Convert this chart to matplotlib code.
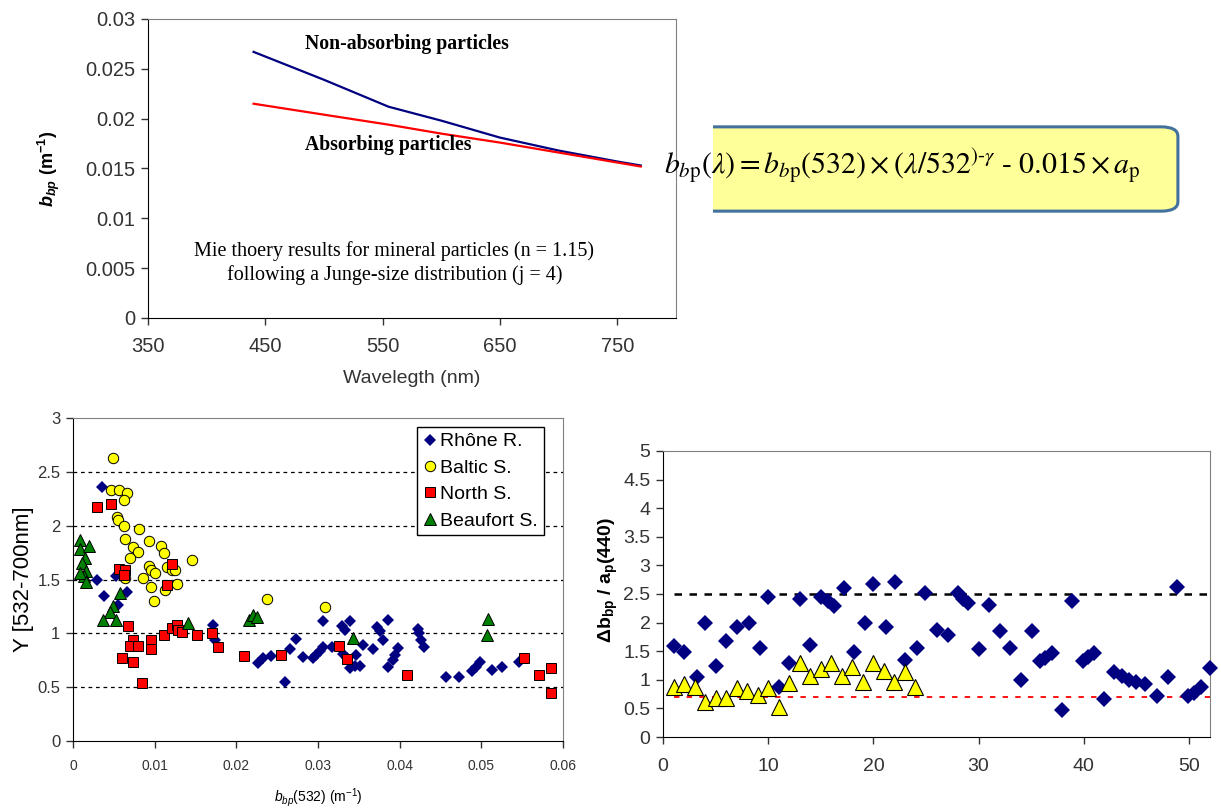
import matplotlib
matplotlib.use('Agg')
import matplotlib.pyplot as plt
from matplotlib.patches import FancyBboxPatch

plt.rcParams['font.family'] = ['Liberation Sans', 'DejaVu Sans']
plt.rcParams['mathtext.fontset'] = 'custom'
plt.rcParams['mathtext.rm'] = 'Liberation Sans'
plt.rcParams['mathtext.it'] = 'Liberation Sans:italic'
plt.rcParams['mathtext.bf'] = 'Liberation Sans:bold:italic'
plt.rcParams['mathtext.sf'] = 'Liberation Sans:bold'

W, H = 1221, 809

# --- top panel: Mie theory results ---
wavelength = [440, 500, 555, 600, 650, 700, 750, 770]
bbp_nonabs = [0.0267, 0.0239, 0.0212, 0.0198, 0.0181, 0.0168, 0.0157, 0.0153]
bbp_abs = [0.0215, 0.0204, 0.0194, 0.0185, 0.0176, 0.0166, 0.0156, 0.0152]
top_xticks = [350, 450, 550, 650, 750]
top_yticks = [0, 0.005, 0.01, 0.015, 0.02, 0.025, 0.03]
top_yticklabels = ['0', '0.005', '0.01', '0.015', '0.02', '0.025', '0.03']

# --- bottom left: spectral slope vs bbp(532) ---
rhone_x = [0.0036, 0.0029, 0.0038, 0.0053, 0.0055, 0.0066, 0.0172, 0.0174, 0.0227, 0.0233,
           0.0242, 0.0260, 0.0266, 0.0273, 0.0282, 0.0294, 0.0298, 0.0302, 0.0306, 0.0306,
           0.0317, 0.0329, 0.0333, 0.0339, 0.0331, 0.0335, 0.0339, 0.0345, 0.0347, 0.0351,
           0.0355, 0.0367, 0.0372, 0.0376, 0.0380, 0.0386, 0.0386, 0.0392, 0.0398, 0.0394,
           0.0422, 0.0424, 0.0426, 0.0430, 0.0457, 0.0473, 0.0489, 0.0494, 0.0498, 0.0513,
           0.0525, 0.0546]
rhone_y = [2.36, 1.50, 1.35, 1.53, 1.26, 1.38, 1.08, 0.94, 0.72, 0.77,
           0.79, 0.55, 0.85, 0.95, 0.78, 0.77, 0.80, 0.84, 0.87, 1.11,
           0.87, 1.07, 1.03, 1.11, 0.81, 0.77, 0.68, 0.70, 0.80, 0.70,
           0.89, 0.85, 1.06, 1.02, 0.94, 1.12, 0.69, 0.75, 0.86, 0.80,
           1.04, 1.00, 0.94, 0.87, 0.59, 0.59, 0.65, 0.69, 0.73, 0.66,
           0.69, 0.73]
baltic_x = [0.0049, 0.0047, 0.0056, 0.0066, 0.0062, 0.0054, 0.0055, 0.0062, 0.0081, 0.0064,
            0.0093, 0.0074, 0.0108, 0.0080, 0.0111, 0.0070, 0.0146, 0.0093, 0.0095, 0.0100,
            0.0115, 0.0121, 0.0125, 0.0086, 0.0064, 0.0127, 0.0095, 0.0113, 0.0099, 0.0237,
            0.0309]
baltic_y = [2.63, 2.33, 2.33, 2.30, 2.24, 2.08, 2.05, 2.00, 1.97, 1.88,
            1.86, 1.80, 1.81, 1.76, 1.75, 1.70, 1.68, 1.63, 1.59, 1.56,
            1.62, 1.59, 1.59, 1.51, 1.51, 1.46, 1.43, 1.40, 1.30, 1.32,
            1.24]
north_x = [0.0029, 0.0047, 0.0056, 0.0064, 0.0062, 0.0121, 0.0115, 0.0067, 0.0073, 0.0070,
           0.0080, 0.0096, 0.0095, 0.0060, 0.0074, 0.0084, 0.0111, 0.0121, 0.0127, 0.0129,
           0.0134, 0.0152, 0.0170, 0.0177, 0.0209, 0.0255, 0.0326, 0.0335, 0.0409, 0.0552,
           0.0571, 0.0585, 0.0585]
north_y = [2.17, 2.20, 1.60, 1.59, 1.54, 1.64, 1.45, 1.07, 0.94, 0.88,
           0.88, 0.94, 0.85, 0.77, 0.73, 0.54, 0.98, 1.05, 1.08, 1.03,
           1.01, 0.98, 1.00, 0.87, 0.79, 0.80, 0.885, 0.76, 0.61, 0.77,
           0.61, 0.675, 0.45]
beaufort_x = [0.0009, 0.0008, 0.0019, 0.0015, 0.0011, 0.0016, 0.0013, 0.0009, 0.0016, 0.0058,
              0.0049, 0.0045, 0.0037, 0.0053, 0.0141, 0.0215, 0.0220, 0.0225, 0.0343, 0.0508,
              0.0507]
beaufort_y = [1.87, 1.78, 1.81, 1.70, 1.65, 1.58, 1.53, 1.56, 1.48, 1.37,
              1.25, 1.20, 1.12, 1.12, 1.10, 1.12, 1.17, 1.15, 0.96, 1.13,
              0.98]
bl_xticks = [0, 0.01, 0.02, 0.03, 0.04, 0.05, 0.06]
bl_xticklabels = ['0', '0.01', '0.02', '0.03', '0.04', '0.05', '0.06']
bl_yticks = [0, 0.5, 1, 1.5, 2, 2.5, 3]
bl_yticklabels = ['0', '0.5', '1', '1.5', '2', '2.5', '3']

# --- bottom right: delta bbp / ap(440) per sample ---
diam_x = [1, 2, 3.2, 4, 5, 6, 7, 8.2, 9.2, 10, 11, 12, 13, 14, 15, 15.7, 16.3, 17.2, 18.2, 19.2,
          20, 21.2, 22.1, 23, 24.1, 24.9, 26, 27.1, 28, 28.5, 29, 30, 31, 32, 33, 34, 35.1,
          35.8, 36.3, 37, 37.9, 38.9, 39.9, 40.4, 41, 41.9, 42.9, 43.6, 44.3, 45, 45.8, 47,
          48, 48.9, 49.9, 50.5, 51.1, 52]
diam_y = [1.59, 1.48, 1.05, 1.99, 1.24, 1.67, 1.93, 1.99, 1.55, 2.45, 0.88, 1.30, 2.42, 1.61,
          2.45, 2.37, 2.29, 2.60, 1.48, 2.00, 2.67, 1.92, 2.71, 1.35, 1.55, 2.51, 1.87, 1.79,
          2.51, 2.42, 2.34, 1.53, 2.30, 1.85, 1.55, 0.99, 1.85, 1.32, 1.38, 1.46, 0.47, 2.38,
          1.33, 1.39, 1.46, 0.66, 1.14, 1.06, 0.99, 0.97, 0.93, 0.72, 1.05, 2.63, 0.71, 0.77,
          0.87, 1.20]
tri_x = list(range(1, 25))
tri_y = [0.88, 0.93, 0.88, 0.62, 0.68, 0.68, 0.85, 0.80, 0.74, 0.85, 0.52, 0.94,
         1.29, 1.06, 1.19, 1.29, 1.06, 1.23, 0.97, 1.29, 1.15, 0.97, 1.13, 0.87]
upper_limit = 2.5
lower_limit = 0.7
br_yticks = [0, 0.5, 1, 1.5, 2, 2.5, 3, 3.5, 4, 4.5, 5]
br_yticklabels = ['0', '0.5', '1', '1.5', '2', '2.5', '3', '3.5', '4', '4.5', '5']
br_xticks = [0, 10, 20, 30, 40, 50]

fig = plt.figure(figsize=(W / 100, H / 100), dpi=100)


def px_axes(l, t, r, b):
    return fig.add_axes([l / W, 1 - b / H, (r - l) / W, (b - t) / H])


def excel_frame(ax):
    ax.spines['top'].set_color('#808080')
    ax.spines['right'].set_color('#808080')
    ax.tick_params(direction='out', length=5, width=1, colors='black', pad=4)
    ax.tick_params(top=False, right=False)


# top panel
ax1 = px_axes(148, 19, 676, 318)
ax1.plot(wavelength, bbp_nonabs, color='#000080', lw=1.6)
ax1.plot(wavelength, bbp_abs, color='#ff0000', lw=1.6)
ax1.set_xlim(350, 800)
ax1.set_ylim(0, 0.03)
ax1.set_xticks(top_xticks)
ax1.set_yticks(top_yticks)
ax1.set_yticklabels(top_yticklabels)
excel_frame(ax1)
ax1.tick_params(labelsize=14.5, colors='#333333')
ax1.tick_params(axis='x', pad=9)
ax1.set_xlabel('Wavelegth (nm)', fontsize=14, color='#333333', labelpad=10)
ax1.set_ylabel(r'$\mathbf{b_{bp}}$ (m$^{\mathsf{-1}}$)', fontsize=13, fontweight='bold')
ax1.yaxis.set_label_coords((62 - 148) / 528, 0.5)
ax1.text(484, 0.0275, 'Non-absorbing particles', family='Liberation Serif',
         fontweight='bold', fontsize=14.2, ha='left', va='center')
ax1.text(484, 0.0174, 'Absorbing particles', family='Liberation Serif',
         fontweight='bold', fontsize=14.2, ha='left', va='center')
ax1.text(560, 0.0055, 'Mie thoery results for mineral particles (n = 1.15)\n'
         'following a Junge-size distribution (j = 4)', family='Liberation Serif',
         fontsize=14.5, ha='center', va='center', linespacing=1.3)

# formula box
axf = px_axes(713, 120, 1185, 218)
axf.set_xlim(0, 1)
axf.set_ylim(0, 1)
axf.axis('off')
box = FancyBboxPatch((-0.2, 0.07), 1.185, 0.86, boxstyle='round,pad=0,rounding_size=0.035',
                     mutation_aspect=2.8, facecolor='#ffff99', edgecolor='#41719c', lw=2.2,
                     clip_on=True)
axf.add_patch(box)
fig.text(664 / W, 1 - 166 / H,
         r'$b_{b\mathrm{p}}(\lambda) = b_{b\mathrm{p}}(532)\times(\lambda/532^{)\text{-}\gamma}'
         r'\ \text{-}\ 0.015\times a_\mathrm{p}$',
         math_fontfamily='stix', fontsize=21.5, ha='left', va='center')

# bottom left panel
ax2 = px_axes(73, 418, 563, 741)
for yv in bl_yticks[1:-1]:
    ax2.axhline(yv, color='black', lw=0.9, ls=(0, (3, 3)), zorder=1)
ax2.plot(rhone_x, rhone_y, 'D', color='#000080', ms=6, mew=0, label='Rhône R.', zorder=3)
ax2.plot(baltic_x, baltic_y, 'o', mfc='#ffff00', mec='black', ms=7.5, mew=0.7,
         label='Baltic S.', zorder=3)
ax2.plot(north_x, north_y, 's', mfc='#ff0000', mec='black', ms=7.5, mew=0.7,
         label='North S.', zorder=3)
ax2.plot(beaufort_x, beaufort_y, '^', mfc='#008000', mec='black', ms=8, mew=0.7,
         label='Beaufort S.', zorder=3)
ax2.set_xlim(0, 0.06)
ax2.set_ylim(0, 3)
ax2.set_xticks(bl_xticks)
ax2.set_xticklabels(bl_xticklabels)
ax2.set_yticks(bl_yticks)
ax2.set_yticklabels(bl_yticklabels)
excel_frame(ax2)
ax2.tick_params(axis='y', labelsize=12, colors='#333333')
ax2.tick_params(axis='x', labelsize=10, colors='#333333', pad=8)
ax2.set_ylabel('Y [532-700nm]', fontsize=16)
ax2.yaxis.set_label_coords((34 - 73) / 490, 0.5)
fig.text(318 / W, 1 - 798 / H, r'$b_{bp}$(532) (m$^{-1}$)', fontsize=10,
         ha='center', va='center')
leg = ax2.legend(loc='upper right', bbox_to_anchor=(544 / W, 1 - 427 / H),
                 bbox_transform=fig.transFigure, borderaxespad=0, fontsize=14,
                 handlelength=0.7, handletextpad=0.2, labelspacing=0.45, borderpad=0.3,
                 fancybox=False, framealpha=1, edgecolor='black')
leg.get_frame().set_linewidth(1)

# bottom right panel
ax3 = px_axes(663, 451, 1210, 737)
ax3.hlines(upper_limit, 1, 52, color='black', lw=1.8, linestyles=(0, (3, 3)), zorder=1)
ax3.hlines(lower_limit, 1, 52, color='#ff0000', lw=1.3, linestyles=(0, (3, 4)), zorder=1)
ax3.plot(diam_x, diam_y, 'D', color='#000080', ms=8, mew=0, zorder=3, clip_on=False)
ax3.plot(tri_x, tri_y, '^', mfc='#ffff00', mec='black', ms=11, mew=0.8, zorder=4,
         clip_on=False)
ax3.set_xlim(0, 52)
ax3.set_ylim(0, 5)
ax3.set_xticks(br_xticks)
ax3.set_yticks(br_yticks)
ax3.set_yticklabels(br_yticklabels)
excel_frame(ax3)
ax3.tick_params(labelsize=14, colors='#333333')
ax3.tick_params(axis='x', pad=10)
fig.text(608 / W, 1 - 580 / H, r'Δb$_{\mathsf{bp}}$ / a$_{\mathsf{p}}$(440)', rotation=90,
         fontsize=14, fontweight='bold', ha='center', va='center')

fig.savefig('out.png', dpi=100)
